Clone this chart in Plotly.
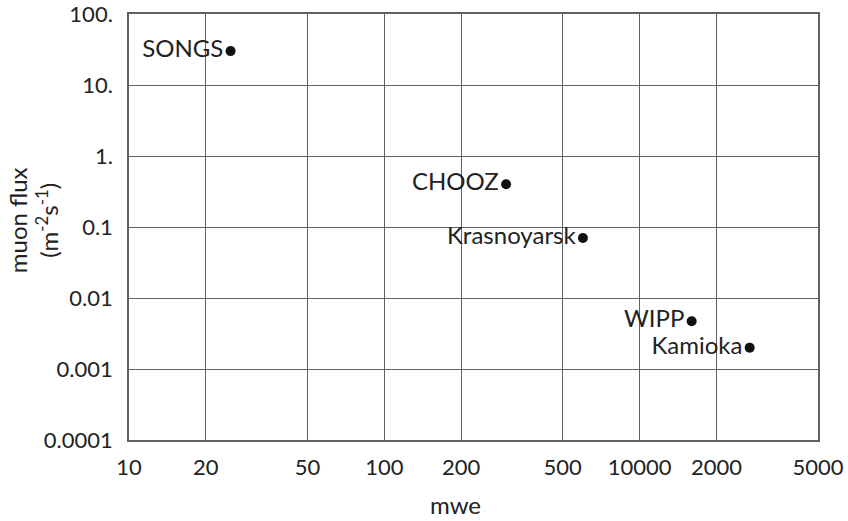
import plotly.graph_objects as go

# Underground sites: depth (metres water equivalent) and muon flux (m^-2 s^-1)
sites = ["SONGS", "CHOOZ", "Krasnoyarsk", "WIPP", "Kamioka"]
depth_mwe = [25, 300, 600, 1600, 2700]
muon_flux = [30, 0.40, 0.07, 0.0047, 0.002]

x_tick_vals = [10, 20, 50, 100, 200, 500, 1000, 2000, 5000]
x_tick_text = ["10", "20", "50", "100", "200", "500", "10000", "2000", "5000"]
y_tick_vals = [0.0001, 0.001, 0.01, 0.1, 1, 10, 100]
y_tick_text = ["0.0001", "0.001", "0.01", "0.1", "1.", "10.", "100."]

font_family = "Lato, Open Sans, sans-serif"
label_size = 24
tick_size = 22
grid_color = "#606060"
text_color = "#222222"

fig = go.Figure()
fig.add_trace(go.Scatter(
    x=depth_mwe,
    y=muon_flux,
    mode="markers+text",
    text=sites,
    textposition="middle left",
    textfont=dict(family=font_family, size=label_size, color=text_color),
    marker=dict(color="#111111", size=10),
    cliponaxis=False,
    showlegend=False,
))

axis_common = dict(
    type="log",
    showgrid=True,
    gridcolor=grid_color,
    gridwidth=1,
    showline=True,
    linecolor=grid_color,
    linewidth=1.5,
    mirror=True,
    ticks="",
    zeroline=False,
    automargin=False,
    ticklabeloverflow="allow",
    tickfont=dict(family=font_family, size=tick_size, color=text_color),
)

fig.update_xaxes(
    **axis_common,
    range=[0.99999, 3.69898],
    tickmode="array",
    tickvals=x_tick_vals,
    ticktext=x_tick_text,
    ticklabelstandoff=7,
)
fig.update_yaxes(
    **axis_common,
    range=[-4.00001, 2.00001],
    tickmode="array",
    tickvals=y_tick_vals,
    ticktext=y_tick_text,
    ticklabelstandoff=10,
)

fig.update_layout(
    width=848,
    height=521,
    margin=dict(l=129, r=30, t=14, b=81, autoexpand=False),
    paper_bgcolor="white",
    plot_bgcolor="white",
    annotations=[
        dict(
            text="mwe",
            xref="paper", yref="paper",
            x=(455 - 129) / (818 - 129), y=-0.152,
            xanchor="center", yanchor="middle",
            showarrow=False,
            font=dict(family=font_family, size=label_size, color=text_color),
        ),
        dict(
            text="muon flux<br>(m<sup>-2</sup>s<sup>-1</sup>)",
            xref="paper", yref="paper",
            x=(33 - 129) / (818 - 129), y=0.516,
            xanchor="center", yanchor="middle",
            textangle=-90,
            showarrow=False,
            font=dict(family=font_family, size=label_size, color=text_color),
        ),
    ],
)

fig.write_html("out.html")
